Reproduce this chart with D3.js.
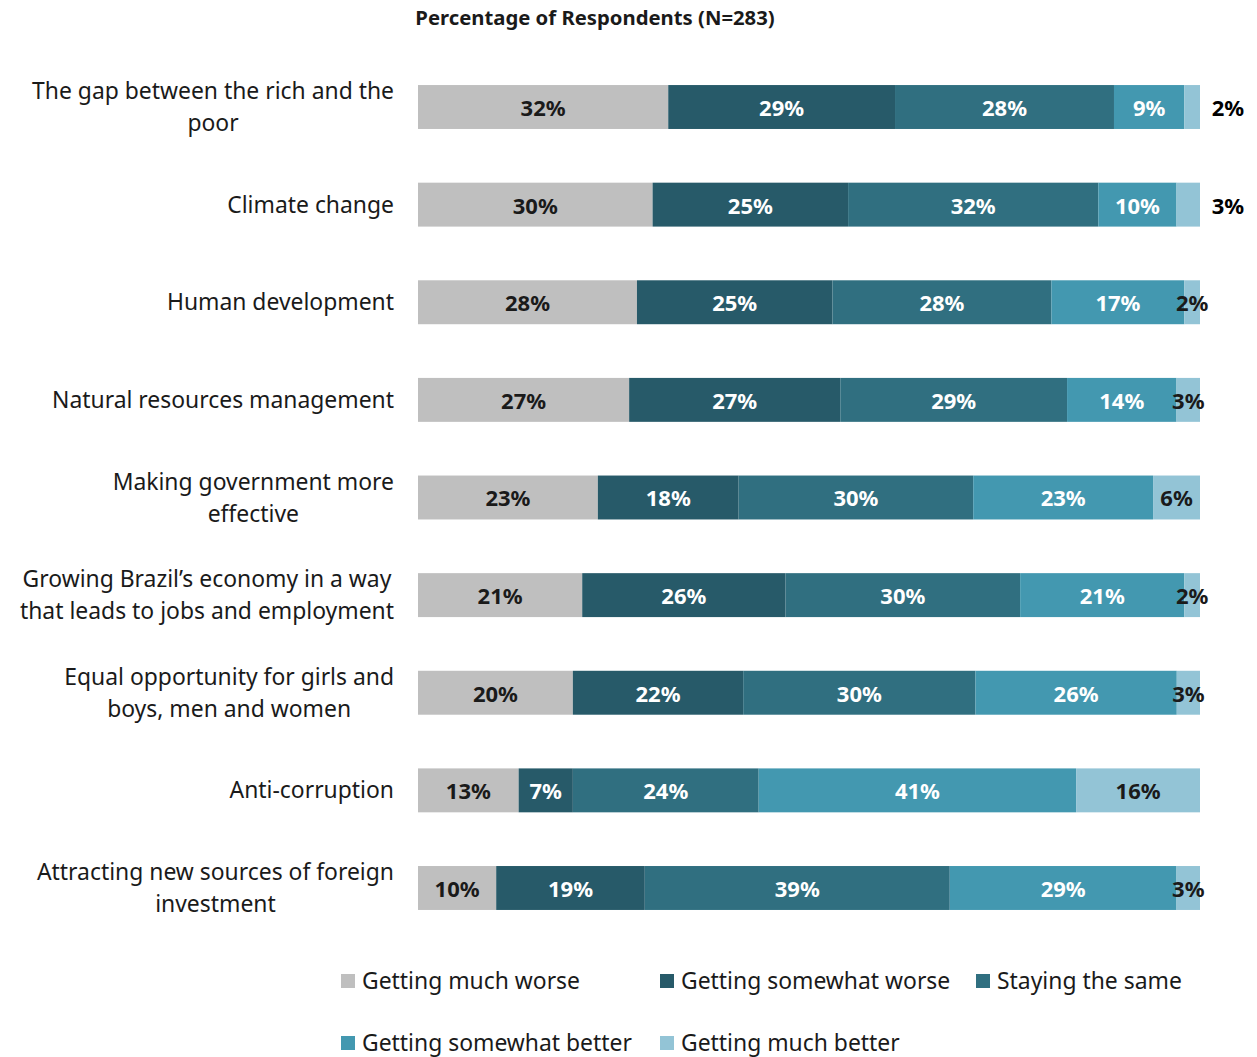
<!DOCTYPE html>
<html lang="en">
<head>
<meta charset="UTF-8">
<title>Brazil stacked bars</title>
<script src="https://cdn.jsdelivr.net/npm/d3@7"></script>
<style>
    body{ margin:0; background:#fff; }
    text{ font-family: "Noto Sans", "Open Sans", sans-serif; }
</style>
</head>
<body>
<svg id="chart" width="1257" height="1057"></svg>
<script>
    // data
    let categories = [
        "The gap between the rich and the poor",
        "Climate change",
        "Human development",
        "Natural resources management",
        "Making government more effective",
        "Growing Brazil\u2019s economy in a way that leads to jobs and employment",
        "Equal opportunity for girls and boys, men and women",
        "Anti-corruption",
        "Attracting new sources of foreign investment"
    ]
    // wrapped lines as in the original
    let category_lines = [
        ["The gap between the rich and the", "poor"],
        ["Climate change"],
        ["Human development"],
        ["Natural resources management"],
        ["Making government more", "effective"],
        ["Growing Brazil\u2019s economy in a way", "that leads to jobs and employment"],
        ["Equal opportunity for girls and", "boys, men and women"],
        ["Anti-corruption"],
        ["Attracting new sources of foreign", "investment"]
    ]
    let series = ["Getting much worse", "Getting somewhat worse", "Staying the same",
                  "Getting somewhat better", "Getting much better"]
    let much_worse      = [32, 30, 28, 27, 23, 21, 20, 13, 10]
    let somewhat_worse  = [29, 25, 25, 27, 18, 26, 22, 7, 19]
    let same            = [28, 32, 28, 29, 30, 30, 30, 24, 39]
    let somewhat_better = [9, 10, 17, 14, 23, 21, 26, 41, 29]
    let much_better     = [2, 3, 2, 3, 6, 2, 3, 16, 3]

    let colors = ["#bfbfbf", "#275a69", "#306f80", "#4398b0", "#93c4d6"]
    let label_colors = ["#1a1a1a", "#fff", "#fff", "#fff", "#1a1a1a"]

    let rows = categories.map((c, i) => ({
        category: c,
        "Getting much worse": much_worse[i],
        "Getting somewhat worse": somewhat_worse[i],
        "Staying the same": same[i],
        "Getting somewhat better": somewhat_better[i],
        "Getting much better": much_better[i]
    }))

    let svg = d3.select("#chart")

    // scales
    let x_scale = d3.scaleLinear()
        .domain([0, 1])
        .range([418, 1200])

    let y_scale = d3.scaleBand()
        .domain(categories)
        .range([58.2, 936.8])
        .paddingInner(0.55)
        .paddingOuter(0.275)

    let color_scale = d3.scaleOrdinal()
        .domain(series)
        .range(colors)

    // stacked to 100%
    let stacked = d3.stack()
        .keys(series)
        .offset(d3.stackOffsetExpand)(rows)

    // title
    svg.append("text")
        .attr("x", 595)
        .attr("y", 25)
        .attr("text-anchor", "middle")
        .style("font-size", "20.3px")
        .style("font-weight", "bold")
        .style("fill", "#1a1a1a")
        .text("Percentage of Respondents (N=283)")

    // bars
    let groups = svg.selectAll("g.series")
        .data(stacked)
        .join("g")
        .attr("class", "series")
        .attr("fill", d => color_scale(d.key))

    groups.selectAll("rect")
        .data(d => d)
        .join("rect")
        .attr("x", d => x_scale(d[0]))
        .attr("y", d => y_scale(d.data.category))
        .attr("width", d => x_scale(d[1]) - x_scale(d[0]))
        .attr("height", y_scale.bandwidth())

    // value labels
    let outside_end = new Set([categories[0], categories[1]])
    groups.each(function (s, si) {
        d3.select(this).selectAll("text")
            .data(s)
            .join("text")
            .attr("x", d => {
                if (si === series.length - 1 && outside_end.has(d.data.category)) {
                    return x_scale(1) + 28
                }
                return (x_scale(d[0]) + x_scale(d[1])) / 2
            })
            .attr("y", d => y_scale(d.data.category) + y_scale.bandwidth() / 2 + 1)
            .attr("dy", "0.36em")
            .attr("text-anchor", "middle")
            .style("font-size", "22px")
            .style("font-weight", "bold")
            .style("fill", d => (si === series.length - 1 && outside_end.has(d.data.category)) ? "#000" : label_colors[si])
            .text(d => d.data[s.key] + "%")
    })

    // category labels: lines centred, block right-aligned
    let line_height = 32
    categories.forEach((c, i) => {
        let lines = category_lines[i]
        let cy = y_scale(c) + y_scale.bandwidth() / 2
        let g = svg.append("g")
        let texts = g.selectAll("text")
            .data(lines)
            .join("text")
            .attr("y", (d, j) => cy + (j - (lines.length - 1) / 2) * line_height)
            .attr("dy", "0.35em")
            .attr("text-anchor", "middle")
            .style("font-size", "22.9px")
            .style("fill", "#1a1a1a")
            .text(d => d)
        let max_w = d3.max(texts.nodes(), n => n.getComputedTextLength())
        texts.attr("x", 394 - max_w / 2)
    })

    // legend
    let legend_pos = [[341, 981], [660, 981], [976, 981], [341, 1043], [660, 1043]]
    let legend = svg.selectAll("g.legend")
        .data(series)
        .join("g")
        .attr("class", "legend")
        .attr("transform", (d, i) => `translate(${legend_pos[i][0]},${legend_pos[i][1]})`)
    legend.append("rect")
        .attr("x", 0)
        .attr("y", -7)
        .attr("width", 14)
        .attr("height", 14)
        .attr("fill", d => color_scale(d))
    legend.append("text")
        .attr("x", 21)
        .attr("dy", "0.35em")
        .style("font-size", "22.9px")
        .style("fill", "#1a1a1a")
        .text(d => d)
</script>
</body>
</html>
